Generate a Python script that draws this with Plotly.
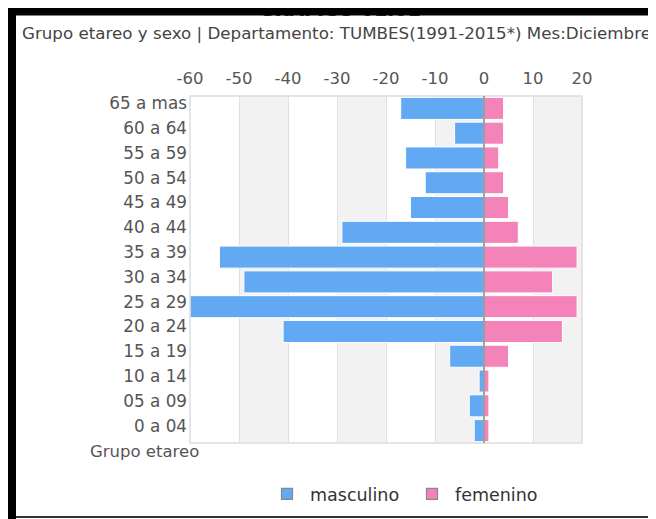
import plotly.graph_objects as go

categories = ["65 a mas", "60 a 64", "55 a 59", "50 a 54", "45 a 49", "40 a 44",
              "35 a 39", "30 a 34", "25 a 29", "20 a 24", "15 a 19", "10 a 14",
              "05 a 09", "0 a 04"]
masculino = [-17, -6, -16, -12, -15, -29, -54, -49, -60, -41, -7, -1, -3, -2]
femenino = [4, 4, 3, 4, 5, 7, 19, 14, 19, 16, 5, 1, 1, 1]
x_ticks = [-60, -50, -40, -30, -20, -10, 0, 10, 20]
title = "GRAFICO 01.01"
subtitle = "Grupo etareo y sexo | Departamento: TUMBES(1991-2015*) Mes:Diciembre"

FONT = "DejaVu Sans"
FS = 16.5
OFF = 8  # page offset of the figure
W, H = 656 - OFF, 519 - OFF
L, R, T, B = 190 - OFF, 656 - 582, 96 - OFF, 519 - 443
pw, ph = W - L - R, H - T - B
BLUE, PINK = "#62a9f3", "#f383b9"

def px(x):
    return (x - OFF - L) / pw

def py(y):
    return (H + OFF - B - y) / ph

fig = go.Figure()
fig.add_trace(go.Bar(y=categories, x=masculino, orientation="h", name="masculino",
                     showlegend=False,
                     marker=dict(color=BLUE, line=dict(color="#ffffff", width=1))))
fig.add_trace(go.Bar(y=categories, x=femenino, orientation="h", name="femenino",
                     showlegend=False,
                     marker=dict(color=PINK, line=dict(color="#ffffff", width=1))))
for nm, col in [("masculino", BLUE), ("femenino", PINK)]:
    fig.add_trace(go.Scatter(x=[None], y=[None], mode="markers", name=nm,
                             marker=dict(symbol="square", size=11, color=col,
                                         line=dict(color="#888888", width=1.2))))

shapes = []
for a in [-50, -30, -10, 10]:
    shapes.append(dict(type="rect", xref="x", yref="paper", x0=a, x1=a + 10, y0=0, y1=1,
                       fillcolor="#f2f2f2", line=dict(width=0), layer="below"))
shapes.append(dict(type="rect", xref="paper", yref="paper", x0=0, x1=1, y0=0, y1=1,
                   line=dict(color="#dddddd", width=1.5), layer="above"))
shapes.append(dict(type="line", xref="x", yref="paper", x0=0, x1=0, y0=0, y1=1,
                   line=dict(color="#888888", width=1.5), layer="above"))
# black frame (left, bottom)
shapes.append(dict(type="rect", xref="paper", yref="paper", x0=px(8), x1=px(16),
                   y0=py(530), y1=py(7), fillcolor="#000000", line=dict(width=0), layer="above"))
shapes.append(dict(type="rect", xref="paper", yref="paper", x0=px(16), x1=px(670),
                   y0=py(518), y1=py(516), fillcolor="#333333", line=dict(width=0), layer="above"))

annotations = [
    dict(text="<b>" + title + "</b>", xref="paper", yref="paper", x=px(340), y=py(22.5),
         xanchor="center", yanchor="bottom", showarrow=False,
         font=dict(family=FONT, size=19, color="#333333")),
    # top black bar covering the title
    dict(text=" ", xref="paper", yref="paper", x=px(8), y=py(7), xanchor="left",
         yanchor="top", showarrow=False, width=660, height=7, borderpad=0,
         bgcolor="#000000", font=dict(size=4)),
    dict(text=subtitle, xref="paper", yref="paper", x=px(336.5), y=py(33),
         xanchor="center", yanchor="middle", showarrow=False,
         font=dict(family=FONT, size=16.7, color="#444444")),
    dict(text="Grupo etareo", xref="paper", yref="paper", x=px(201), y=py(451),
         xanchor="right", yanchor="middle", showarrow=False,
         font=dict(family=FONT, size=FS, color="#555555")),
]

fig.update_layout(
    width=W, height=H,
    margin=dict(l=L, r=R, t=T, b=B, pad=0, autoexpand=False),
    paper_bgcolor="#ffffff", plot_bgcolor="#ffffff",
    barmode="relative", bargap=0.11,
    font=dict(family=FONT, size=FS, color="#555555"),
    shapes=shapes, annotations=annotations,
    xaxis=dict(side="top", range=[-60, 20], tickvals=x_ticks,
               ticktext=[str(v) for v in x_ticks], showgrid=True, gridcolor="#e0e0e0",
               zeroline=False, showline=False, ticks="", ticklen=0, ticklabelstandoff=8,
               tickfont=dict(family=FONT, size=FS, color="#555555")),
    yaxis=dict(autorange="reversed", showgrid=False, zeroline=False, showline=False,
               ticks="", ticklabelstandoff=2, ticklabelshift=5,
               tickfont=dict(family=FONT, size=16.8, color="#555555")),
    legend=dict(orientation="h", x=px(264), y=py(494), xanchor="left", yanchor="middle",
                entrywidth=94, entrywidthmode="pixels", itemwidth=36,
                font=dict(family=FONT, size=17.5, color="#333333")),
    showlegend=True,
)

fig.write_html("out.html")
